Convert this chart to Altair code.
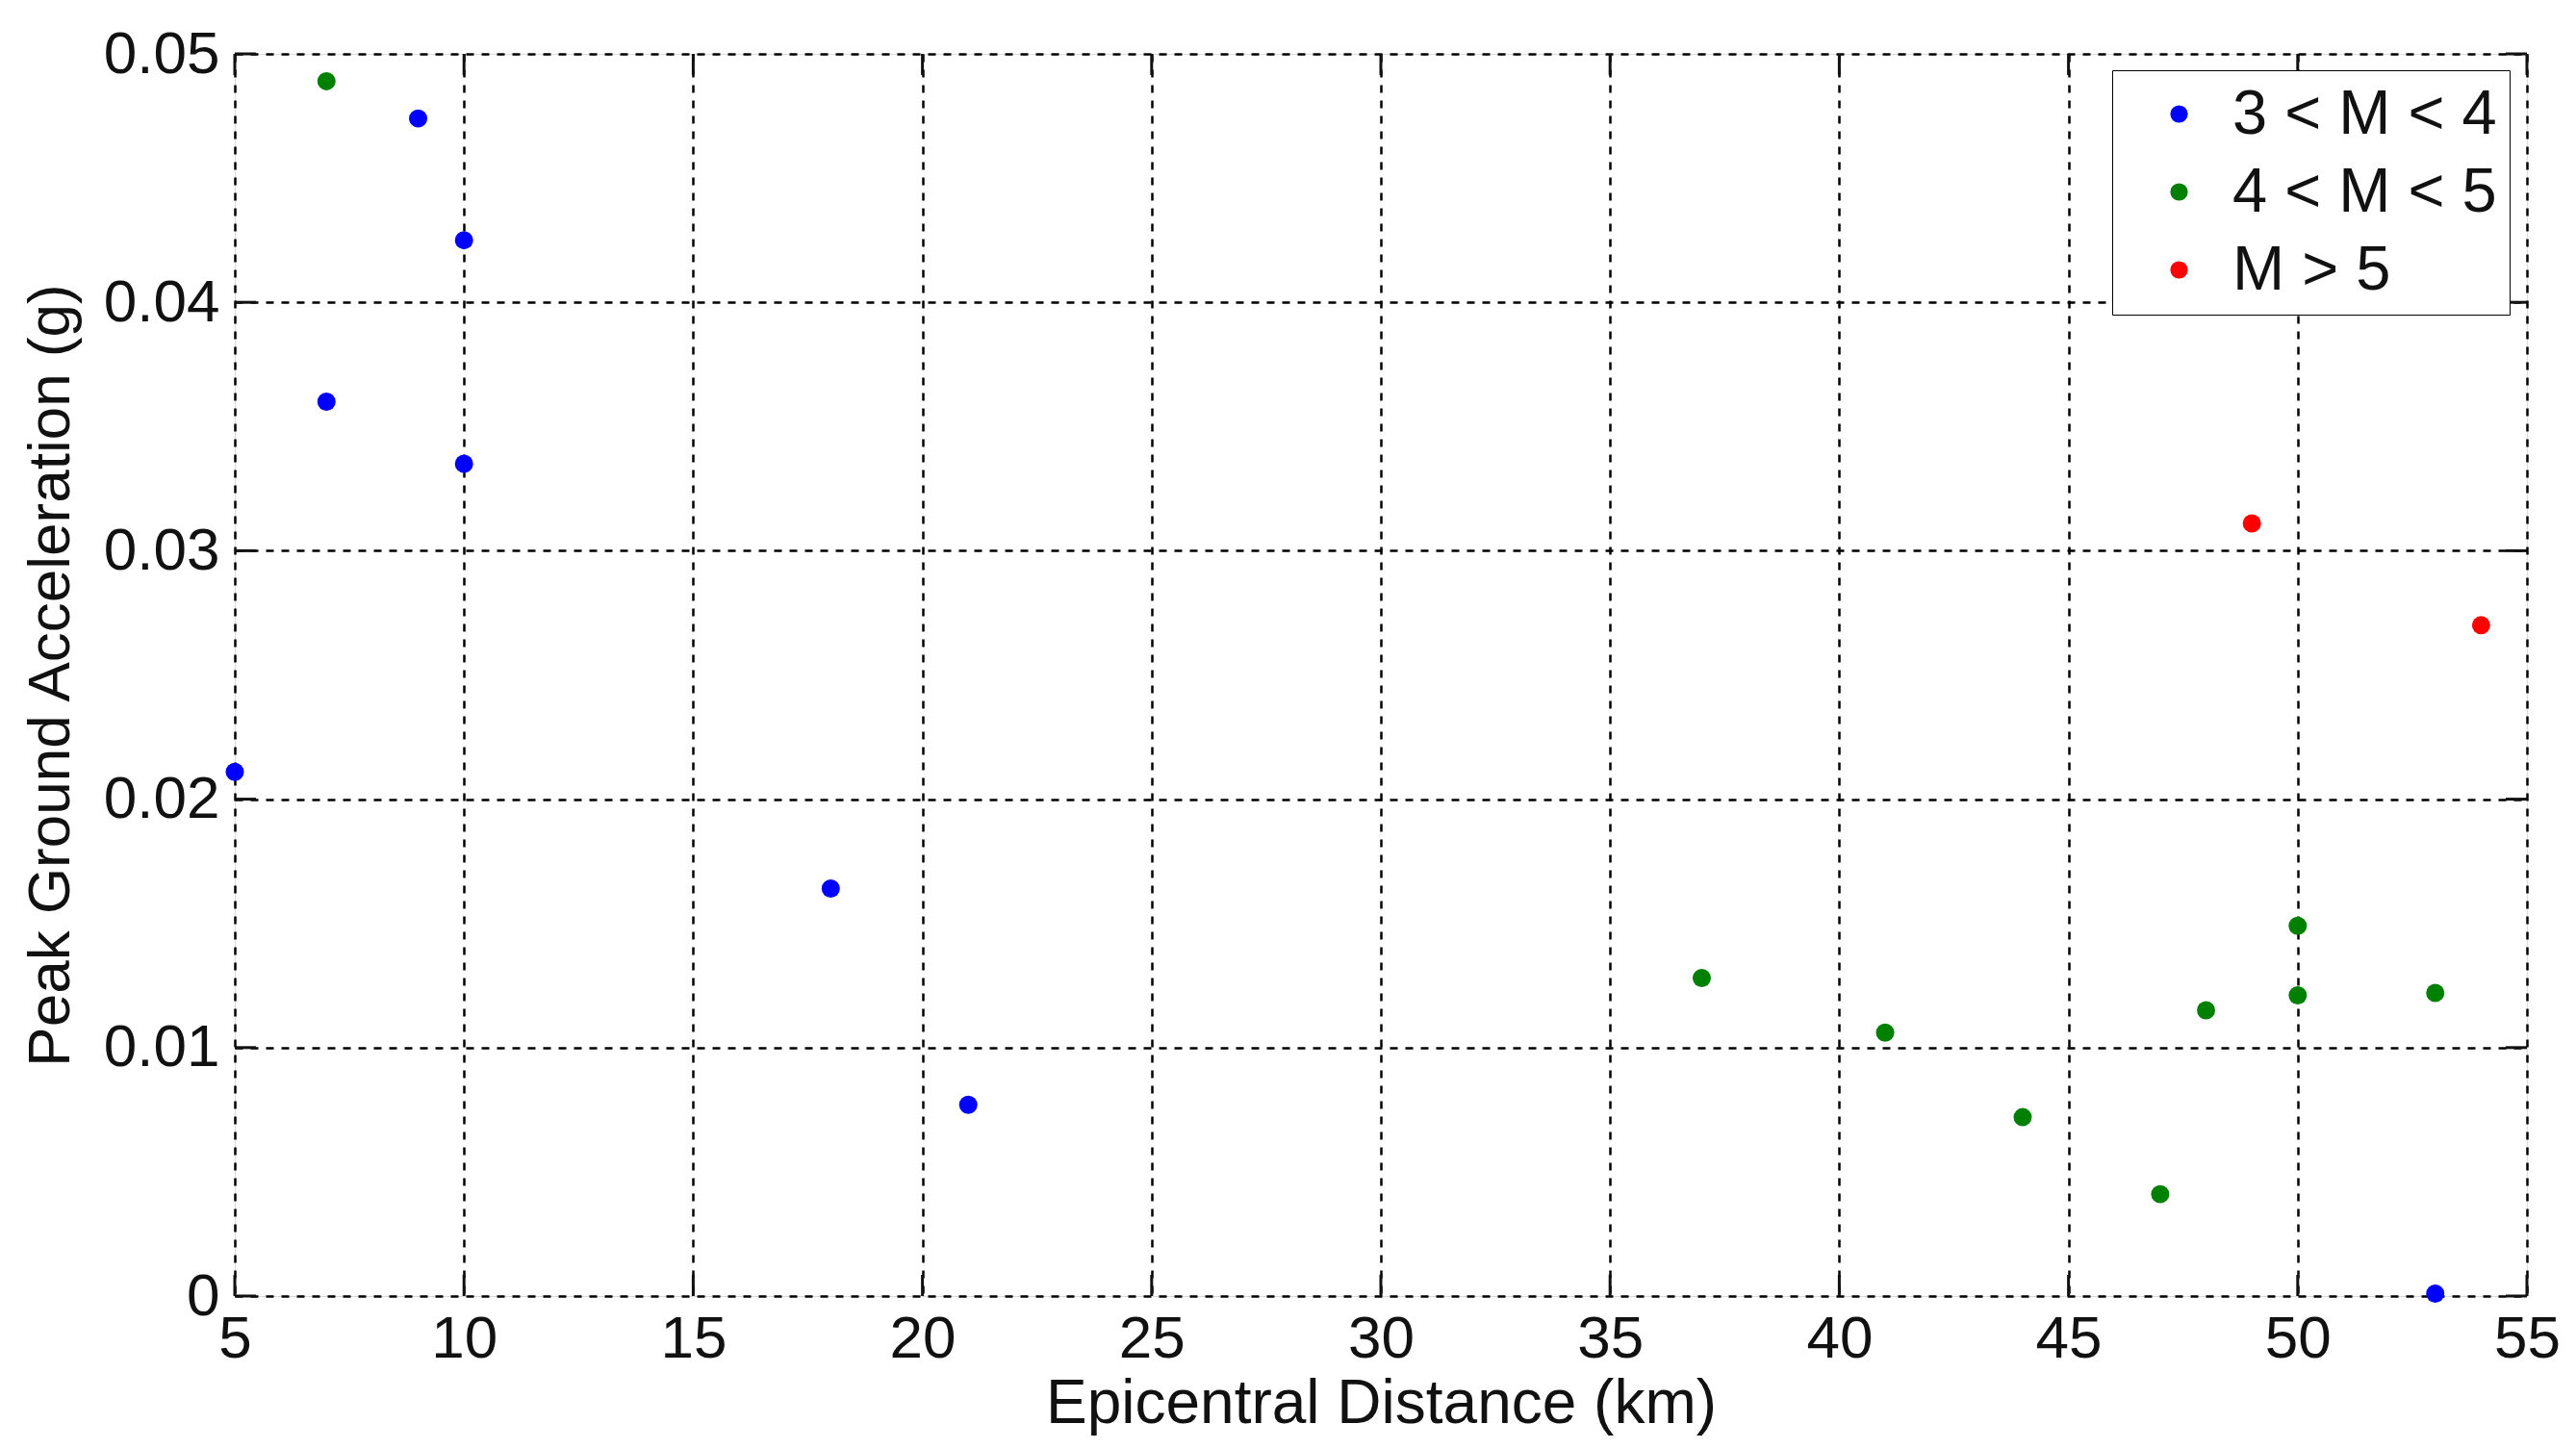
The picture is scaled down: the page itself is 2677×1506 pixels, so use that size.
import altair as alt
import pandas as pd

# Data
blue_x = [5, 7, 9, 10, 10, 18, 21, 53]
blue_y = [0.0211, 0.0360, 0.0474, 0.0425, 0.0335, 0.0164, 0.0077, 0.0001]
green_x = [7, 37, 41, 44, 47, 48, 50, 50, 53]
green_y = [0.0489, 0.0128, 0.0106, 0.0072, 0.0041, 0.0115, 0.0149, 0.0121, 0.0122]
red_x = [49, 54]
red_y = [0.0311, 0.0270]

categories = ["3 < M < 4", "4 < M < 5", "M > 5"]
colors = ["#0000ff", "#008000", "#ff0000"]

x_ticks = [5, 10, 15, 20, 25, 30, 35, 40, 45, 50, 55]
y_ticks = [0, 0.01, 0.02, 0.03, 0.04, 0.05]

rows = []
for xs, ys, c in [(blue_x, blue_y, categories[0]), (green_x, green_y, categories[1]), (red_x, red_y, categories[2])]:
    for a, b in zip(xs, ys):
        rows.append({"dist": a, "pga": b, "cat": c})
df = pd.DataFrame(rows)

W, H = 2382, 1291
FONT = "Liberation Sans"

xscale = alt.Scale(domain=[5, 55], nice=False, zero=False)
yscale = alt.Scale(domain=[0, 0.05], nice=False, zero=True)

points = alt.Chart(df).mark_circle(size=360, opacity=1).encode(
    x=alt.X("dist:Q", scale=xscale,
            axis=alt.Axis(title="Epicentral Distance (km)", values=x_ticks, format="d",
                          grid=True, gridColor="black", gridDash=[8, 8], gridWidth=2.5, gridOpacity=1,
                          ticks=False, domain=False, labelPadding=14, labelFontSize=62,
                          labelFont=FONT, labelColor="#111", labelOverlap=False, labelFlush=False,
                          titleFont=FONT, titleFontSize=64, titleFontWeight="normal", titleColor="#111",
                          titleX=W / 2, titleY=112, titleBaseline="middle", titleAnchor="middle")),
    y=alt.Y("pga:Q", scale=yscale,
            axis=alt.Axis(title="Peak Ground Acceleration (g)", values=y_ticks,
                          labelExpr="datum.value == 0 ? '0' : format(datum.value, '.2f')",
                          grid=True, gridColor="black", gridDash=[8, 8], gridWidth=2.5, gridOpacity=1,
                          ticks=False, domain=False, labelPadding=16, labelFontSize=62,
                          labelFont=FONT, labelColor="#111", labelOverlap=False, labelFlush=False,
                          titleFont=FONT, titleFontSize=62, titleFontWeight="normal", titleColor="#111",
                          titleX=-192, titleY=H / 2, titleBaseline="middle", titleAngle=-90,
                          titleAnchor="middle")),
    color=alt.Color("cat:N", scale=alt.Scale(domain=categories, range=colors),
                    legend=alt.Legend(title=None, orient="none", legendX=1951, legendY=17,
                                      strokeColor="#000", fillColor="white", padding=13,
                                      labelFont=FONT, labelFontSize=65, labelColor="#111",
                                      symbolType="circle", symbolSize=330, symbolStrokeWidth=0,
                                      symbolOffset=24, labelOffset=23, rowPadding=15,
                                      labelLimit=600)),
)

# Inward tick marks on all four sides, placed at the tick values via the scales
xt = pd.DataFrame({"v": x_ticks})
yt = pd.DataFrame({"v": y_ticks})
tick_style = dict(color="#111", strokeWidth=3)
tb = alt.Chart(xt).mark_rule(**tick_style).encode(x=alt.X("v:Q", scale=xscale), y=alt.value(H), y2=alt.value(H - 22))
tt = alt.Chart(xt).mark_rule(**tick_style).encode(x=alt.X("v:Q", scale=xscale), y=alt.value(0), y2=alt.value(22))
tl = alt.Chart(yt).mark_rule(**tick_style).encode(y=alt.Y("v:Q", scale=yscale), x=alt.value(0), x2=alt.value(22))
tr = alt.Chart(yt).mark_rule(**tick_style).encode(y=alt.Y("v:Q", scale=yscale), x=alt.value(W), x2=alt.value(W - 22))

chart = alt.layer(tb, tt, tl, tr, points).properties(
    width=W, height=H,
    autosize=alt.AutoSizeParams(type="none"),
    padding={"left": 236, "top": 48, "right": 40, "bottom": 156},
).configure_view(stroke="#111", strokeWidth=3).configure_legend(
    strokeWidth=4
).configure(background="white")

chart.save("out.html", embed_options={"renderer": "svg", "actions": False})
